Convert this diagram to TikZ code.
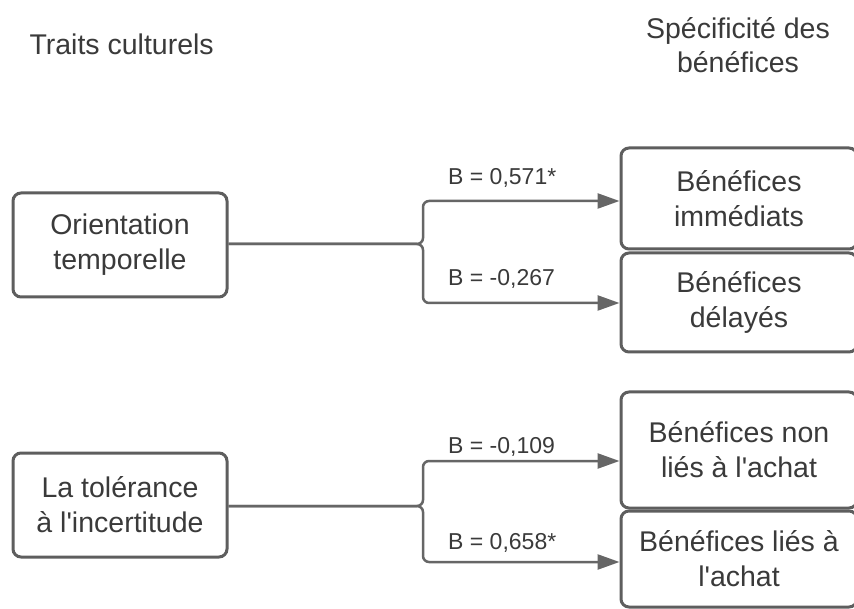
\documentclass[tikz,border=0pt]{standalone}
\usepackage{fontspec}
\setmainfont{Liberation Sans}
\usetikzlibrary{arrows.meta}
\definecolor{boxline}{HTML}{5E5E5E}
\definecolor{boxtext}{HTML}{3A3A3A}
\definecolor{conn}{HTML}{666666}
\begin{document}
\begin{tikzpicture}[x=1pt,y=-1pt,
  box/.style={draw=boxline, line width=3pt, rounded corners=8pt, align=center,
    text=boxtext, font=\fontsize{28.5}{35}\selectfont, inner sep=0pt},
  title/.style={align=center, text=boxtext, font=\fontsize{28.5}{34}\selectfont},
  blabel/.style={text=boxtext, font=\fontsize{23}{27}\selectfont, anchor=west, inner sep=0pt},
  link/.style={draw=conn, line width=2.5pt, rounded corners=6pt},
  arr/.style={link, -{Triangle[length=22pt,width=15pt]}}]
\useasboundingbox (0,0) rectangle (854,609);
\clip (0,0) rectangle (854,609);
\fill[white] (0,0) rectangle (854,609);

\node[title, anchor=west] (t1) at (26,44) {Traits culturels};
\node[title] (t2) at (738,45) {Spécificité des\\bénéfices};

\node[box, minimum width=214pt, minimum height=104pt] (L1) at (120,245) {Orientation\\temporelle};
\node[box, minimum width=214pt, minimum height=104pt] (L2) at (120,505) {La tolérance\\à l\textquotesingle incertitude};

\node[box, minimum width=236pt, minimum height=101pt] (R1) at (739,198.5) {Bénéfices\\immédiats};
\node[box, minimum width=236pt, minimum height=99pt] (R2) at (739,302.5) {Bénéfices\\délayés};
\node[box, minimum width=236pt, minimum height=116pt] (R3) at (739,450) {Bénéfices non\\liés à l\textquotesingle achat};
\node[box, minimum width=236pt, minimum height=96pt] (R4) at (739,559) {Bénéfices liés à\\l\textquotesingle achat};

\coordinate (j1) at (423,244);
\coordinate (a1) at (621,201);
\coordinate (a2) at (621,303);
\coordinate (j2) at (423,506);
\coordinate (a3) at (621,461);
\coordinate (a4) at (621,562);

\draw[arr] (L1.east |- j1) -- (j1) -- (j1 |- a1) -- (R1.west |- a1);
\draw[arr] (L1.east |- j1) -- (j1) -- (j1 |- a2) -- (R2.west |- a2);
\draw[arr] (L2.east |- j2) -- (j2) -- (j2 |- a3) -- (R3.west |- a3);
\draw[arr] (L2.east |- j2) -- (j2) -- (j2 |- a4) -- (R4.west |- a4);

\node[blabel] (b1) at (448,178) {B = 0,571*};
\node[blabel] (b2) at (448,279) {B = -0,267};
\node[blabel] (b3) at (448,447) {B = -0,109};
\node[blabel] (b4) at (448,543) {B = 0,658*};
\end{tikzpicture}
\end{document}
